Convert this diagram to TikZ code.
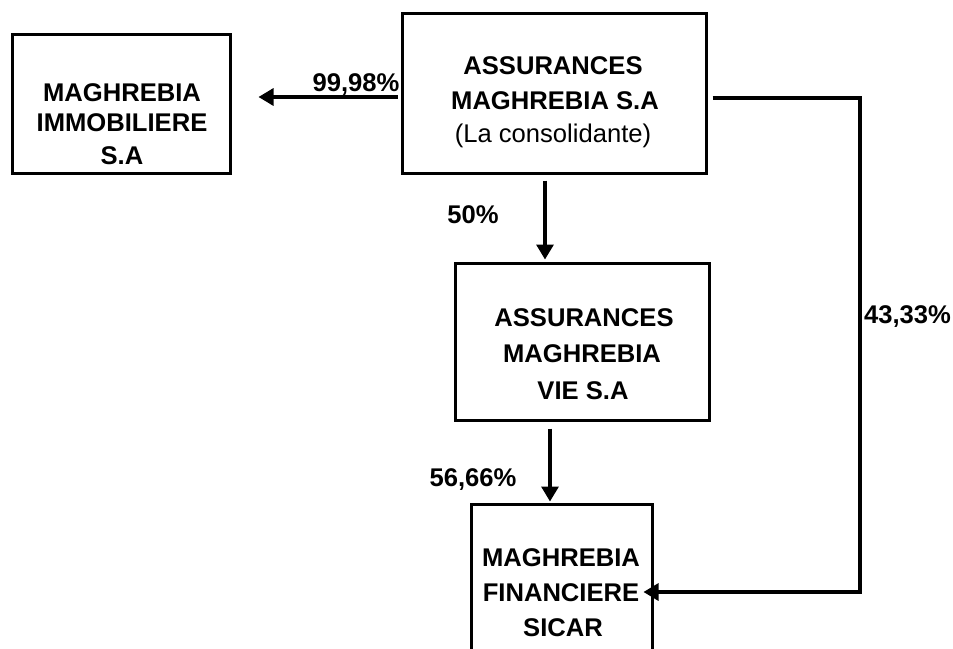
\documentclass[tikz,border=0pt]{standalone}
\usepackage{fontspec}
\setmainfont{Liberation Sans}
\usetikzlibrary{arrows.meta}
\begin{document}
\begin{tikzpicture}[x=1pt,y=-1pt,
  box/.style={draw, line width=3pt, rectangle, inner sep=0pt},
  txt/.style={anchor=base, inner sep=0pt, font=\fontsize{25.6}{30}\selectfont\bfseries},
  txtr/.style={anchor=base, inner sep=0pt, font=\fontsize{25.6}{30}\selectfont},
  arr/.style={line width=3.2pt, -{Triangle[length=15pt,width=17pt]}}]
\useasboundingbox (0,0) rectangle (953,648);
\clip (0,0) rectangle (953,648);
% boxes
\node[box, minimum width=218pt, minimum height=139pt] (b1) at (121,103.5) {};
\node[box, minimum width=304pt, minimum height=160pt] (b2) at (554,93) {};
\node[box, minimum width=254pt, minimum height=157pt] (b3) at (582,341.5) {};
\node[box, minimum width=181pt, minimum height=176pt] (b4) at (561.5,592) {};
% texts
\node[txt] (t1a) at (122,101) {MAGHREBIA};
\node[txt] (t1b) at (122,131) {IMMOBILIERE};
\node[txt] (t1c) at (122,164) {S.A};
\node[txt] (t2a) at (553,74) {ASSURANCES};
\node[txt] (t2b) at (555,109) {MAGHREBIA S.A};
\node[txtr] (t2c) at (553,142) {(La consolidante)};
\node[txt] (t3a) at (584,326) {ASSURANCES};
\node[txt] (t3b) at (582,362) {MAGHREBIA};
\node[txt] (t3c) at (583,399) {VIE S.A};
\node[txt] (t4a) at (561,566) {MAGHREBIA};
\node[txt] (t4b) at (561,601) {FINANCIERE};
\node[txt] (t4c) at (563,636) {SICAR};
% percentages
\node[txt] (p1) at (356,91) {99,98\%};
\node[txt] (p2) at (473,223) {50\%};
\node[txt] (p3) at (473,486) {56,66\%};
\node[txt] (p4) at (907.5,323) {43,33\%};
% connectors
\coordinate (corner) at (860,592);
\draw[arr, shorten <=3pt, shorten >=27pt] (b2.west |- 0,97) -- (b1.east |- 0,97);
\draw[arr, shorten <=6pt, shorten >=2pt] (b2.south -| 545,0) -- (b3.north -| 545,0);
\draw[arr, shorten <=7pt, shorten >=1pt] (b3.south -| 550,0) -- (b4.north -| 550,0);
\draw[arr, shorten <=5pt, shorten >=-10pt] (b2.east |- 0,98) -| (corner) -- (b4.east |- corner);
\end{tikzpicture}
\end{document}
